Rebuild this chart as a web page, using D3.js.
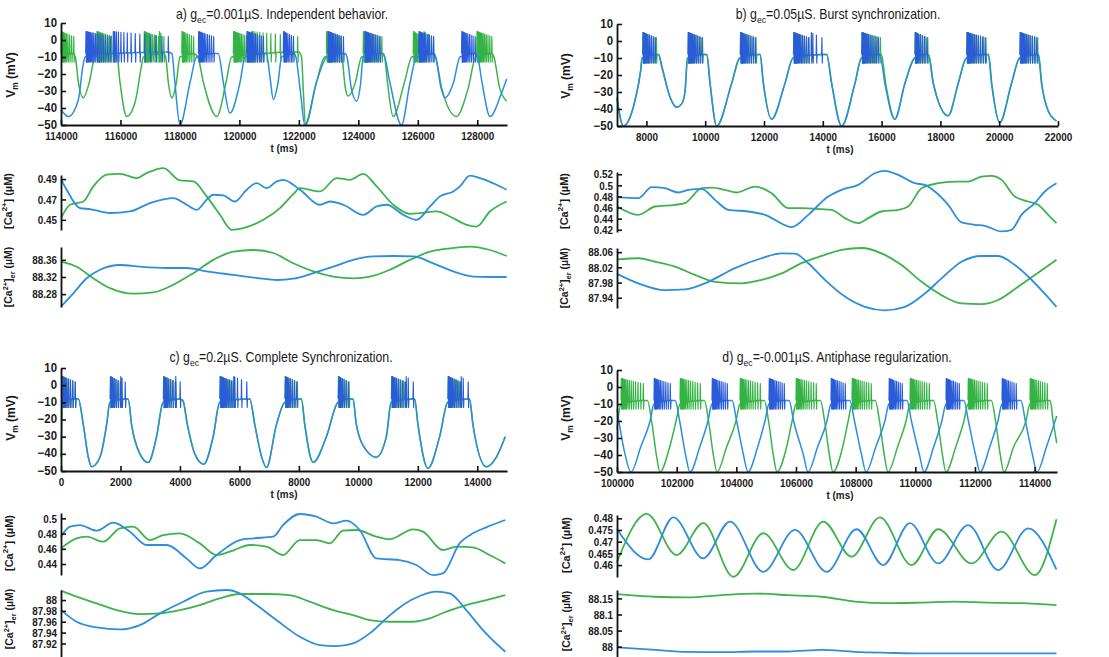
<!DOCTYPE html>
<html>
<head>
<meta charset="utf-8">
<script src="https://cdn.jsdelivr.net/npm/d3@7"></script>
<style>
  body { margin: 0; background: #fff; }
</style>
</head>
<body>
<div id="chart"></div>
<script>
const W = 1109, H = 657;
const FONT = "'Liberation Sans', Arial, Helvetica, sans-serif";
const GREEN = "#3cb44b", GREEN_SP = "#33b343";
const BLUE = "#2b8fdc", BLUE_SP = "#2a5bd8";

// ---- a) gec = 0.001 uS, t 114000..129000 ms ----
// Vm slow envelope [t, mV] and bursts [t start, t end, spikes]
const aBlueV = [[114000,-41],[114250,-45],[114585,-35],[114740,-15],[114810,-10],[115650,-8],[117600,-7],[117730,-8],[117830,-25],[118000,-50],[118340,-25],[118560,-10],[119150,-8],[119290,-8],[119460,-25],[119680,-43],[120020,-25],[120190,-10],[120800,-8],[120910,-8],[121030,-22],[121140,-35],[121300,-25],[121420,-10],[121840,-8],[121900,-10],[122050,-30],[122200,-50],[122590,-25],[122950,-10],[123550,-8],[123620,-10],[123760,-28],[123940,-36],[124080,-25],[124160,-10],[124720,-8],[124840,-8],[125060,-25],[125450,-50],[125740,-25],[125960,-10],[126530,-8],[126600,-10],[126780,-28],[126910,-34],[127200,-25],[127420,-10],[127920,-8],[128000,-9],[128160,-25],[128430,-45],[128800,-32],[128990,-23]];
const aBlueBursts = [[114830,115650,18],[115750,117600,16],[118620,119125,13],[120245,120800,14],[121475,121810,9],[122980,123490,13],[124220,124720,13],[126030,126520,13],[127470,127920,12]];
const aGreenV = [[114000,-9],[114400,-8],[114480,-10],[114585,-25],[114750,-34],[114950,-25],[115145,-10],[115760,-8],[115870,-8],[115985,-25],[116210,-45],[116500,-36],[116700,-16],[116770,-10],[117450,-8],[117520,-10],[117610,-25],[117720,-34],[117880,-25],[118000,-10],[118450,-8],[118600,-10],[118790,-25],[119240,-45],[119550,-25],[119740,-10],[122000,-7],[122090,-10],[122150,-30],[122220,-50],[122590,-25],[122870,-10],[123400,-8],[123450,-10],[123560,-28],[123660,-33],[123900,-25],[124110,-10],[124780,-8],[124880,-10],[124980,-25],[125170,-45],[125550,-25],[125800,-10],[126520,-8],[126600,-10],[126800,-28],[127300,-45],[127700,-28],[127950,-10],[128480,-8],[128560,-10],[128750,-28],[128990,-36]];
const aGreenBursts = [[114000,114420,11],[115200,115760,14],[116790,117270,13],[117300,117450,3],[118060,118450,10],[119795,120300,14],[120400,121950,14],[122925,123400,13],[124160,124780,15],[125845,126125,9],[126200,126520,4],[127980,128480,14]];
// [Ca2+] and [Ca2+]er, [t, uM]
const aBlueCa = [[114000,0.490],[114191,0.4795],[114639,0.4615],[114975,0.4605],[115648,0.4567],[116320,0.4582],[116993,0.4664],[117778,0.4713],[118226,0.4648],[118562,0.4598],[118899,0.4697],[119123,0.4746],[119459,0.4739],[119852,0.4680],[120244,0.4795],[120580,0.4861],[120917,0.4811],[121253,0.4877],[121477,0.4893],[122038,0.4795],[122710,0.4648],[123046,0.4680],[123495,0.4648],[124167,0.4549],[124616,0.4631],[124952,0.4648],[125513,0.4549],[125961,0.4500],[126410,0.4631],[126746,0.4730],[127194,0.4779],[127418,0.4828],[127755,0.4933],[128091,0.4910],[128652,0.4844],[128988,0.4795]];
const aGreenCa = [[114000,0.4516],[114303,0.4648],[114751,0.4680],[115087,0.4828],[115536,0.4943],[115984,0.4952],[116545,0.4910],[116881,0.4959],[117441,0.5008],[118002,0.4887],[118450,0.4877],[118899,0.4730],[119347,0.4549],[119740,0.4402],[120132,0.4418],[120804,0.4500],[121365,0.4615],[121813,0.4752],[122038,0.4811],[122710,0.4779],[123271,0.4910],[123719,0.4893],[124167,0.4952],[124616,0.4828],[125176,0.4648],[125737,0.4559],[126073,0.4566],[126634,0.4582],[127082,0.4533],[127642,0.4451],[127979,0.4434],[128427,0.4582],[128988,0.4680]];
const aBlueEr = [[114000,88.251],[114415,88.282],[114863,88.317],[115312,88.337],[115984,88.348],[116657,88.344],[117554,88.341],[118226,88.341],[118899,88.333],[119796,88.325],[120692,88.317],[121253,88.313],[121813,88.316],[122486,88.329],[123159,88.344],[123831,88.360],[124504,88.368],[125176,88.369],[125849,88.368],[126521,88.352],[127194,88.333],[127867,88.321],[128427,88.320],[128988,88.320]];
const aGreenEr = [[114000,88.356],[114527,88.344],[115087,88.317],[115648,88.294],[116433,88.281],[117105,88.284],[117778,88.302],[118450,88.329],[119123,88.360],[119796,88.379],[120468,88.383],[121141,88.376],[121813,88.352],[122486,88.333],[123159,88.321],[123831,88.317],[124392,88.321],[125064,88.337],[125737,88.360],[126410,88.379],[127082,88.387],[127755,88.391],[128427,88.383],[128988,88.369]];

// ---- b) gec = 0.05 uS, t 7000..22000 ms ----
const bBlueV = [[7000,-33],[7215,-50],[7612,-35],[7800,-18],[7861,-10],[8292,-8],[8405,-8],[8519,-15],[8802,-33],[9029,-39],[9200,-37],[9312,-30],[9403,-10],[9879,-8],[10049,-8],[10162,-25],[10389,-50],[10899,-25],[11182,-10],[11692,-8],[11862,-8],[11975,-25],[12259,-46],[12712,-25],[12995,-10],[13959,-8],[14129,-8],[14299,-25],[14639,-50],[15092,-25],[15319,-10],[15885,-8],[15942,-8],[16112,-25],[16450,-46],[16792,-25],[17132,-10],[17529,-8],[17585,-8],[17755,-25],[18265,-44],[18605,-25],[18888,-10],[19512,-8],[19625,-8],[19738,-25],[20021,-48],[20418,-25],[20701,-10],[21268,-8],[21325,-8],[21438,-25],[21665,-41],[21948,-47]];
const bBlueBursts = [[7880,8292,11],[9420,9879,12],[11200,11692,12],[13010,13505,13],[13600,13959,4],[15330,15885,13],[17140,17529,9],[18900,19512,14],[20710,21268,13]];
const bGreenV = [[7000,-34],[7215,-50],[7612,-35],[7800,-18],[7850,-10],[8330,-8],[8420,-8],[8530,-15],[8802,-33],[9029,-39],[9200,-37],[9312,-30],[9395,-10],[9900,-8],[10060,-8],[10170,-25],[10389,-50],[10899,-25],[11170,-10],[11720,-8],[11870,-8],[11985,-25],[12259,-46],[12712,-25],[12985,-10],[13959,-8],[14135,-8],[14305,-25],[14639,-50],[15092,-25],[15310,-10],[15950,-8],[15990,-8],[16140,-25],[16450,-46],[16792,-25],[17122,-10],[17560,-8],[17600,-8],[17765,-25],[18265,-44],[18605,-25],[18880,-10],[19540,-8],[19640,-8],[19750,-25],[20021,-48],[20418,-25],[20690,-10],[21300,-8],[21340,-8],[21450,-25],[21665,-41],[21948,-47]];
const bGreenBursts = [[7870,8330,10],[9410,9900,11],[11190,11720,11],[13000,13520,12],[15320,15950,13],[17130,17560,9],[18890,19540,13],[20700,21300,12]];
const bBlueCa = [[7000,0.4787],[7725,0.4769],[8179,0.4966],[8632,0.4948],[9085,0.4871],[9425,0.4919],[9879,0.4937],[10332,0.4739],[10785,0.4559],[11465,0.4529],[12032,0.4470],[12939,0.4248],[13505,0.4469],[14185,0.4799],[14638,0.4919],[15205,0.5008],[15772,0.5218],[16112,0.5260],[16565,0.5188],[17132,0.5038],[17472,0.5008],[17812,0.4889],[18265,0.4649],[18718,0.4332],[19172,0.4290],[19512,0.4272],[20078,0.4170],[20418,0.4200],[20758,0.4469],[21212,0.4679],[21552,0.4889],[21948,0.5038]];
const bGreenCa = [[7000,0.4619],[7725,0.4469],[8292,0.4619],[8972,0.4649],[9312,0.4679],[9879,0.4948],[10219,0.4960],[10672,0.4919],[11069,0.4871],[11692,0.4978],[12259,0.4859],[12825,0.4589],[13279,0.4589],[13959,0.4571],[14299,0.4559],[14752,0.4410],[15205,0.4320],[15545,0.4410],[15998,0.4529],[16565,0.4559],[16905,0.4619],[17359,0.4948],[17925,0.5038],[18492,0.5068],[18945,0.5068],[19399,0.5158],[19739,0.5170],[20079,0.5098],[20532,0.4799],[20985,0.4709],[21325,0.4649],[21665,0.4469],[21948,0.4320]];
const bBlueEr = [[7000,88.003],[7725,87.978],[8632,87.960],[9312,87.962],[10105,87.982],[11012,88.018],[11919,88.044],[12599,88.057],[13052,88.056],[13505,88.031],[14072,87.987],[14752,87.943],[15432,87.916],[16112,87.907],[16792,87.916],[17472,87.951],[18038,87.991],[18718,88.035],[19399,88.050],[19965,88.050],[20532,88.026],[20985,87.996],[21438,87.960],[21948,87.916]];
const bGreenEr = [[7000,88.041],[7725,88.044],[8292,88.035],[8972,88.022],[9652,88.000],[10332,87.982],[11239,87.978],[11919,87.987],[12599,88.004],[13279,88.031],[13959,88.050],[14638,88.066],[15318,88.071],[15998,88.057],[16678,88.026],[17359,87.982],[18038,87.947],[18718,87.925],[19399,87.923],[19965,87.934],[20645,87.969],[21212,88.000],[21948,88.040]];

// ---- c) gec = 0.2 uS, t 0..15000 ms ----
const cBlueV = [[0,-9],[470,-8],[582,-8],[750,-23],[918,-42],[1030,-47.5],[1310,-42],[1534,-23],[1646,-10],[2150,-8],[2262,-8],[2374,-23],[2654,-40],[2934,-45],[3214,-30],[3438,-10],[3998,-8],[4100,-9],[4250,-23],[4500,-40],[4800,-46],[5118,-30],[5342,-10],[6238,-8],[6350,-8],[6518,-23],[6750,-42],[6910,-48],[7246,-23],[7526,-10],[7918,-8],[8086,-8],[8198,-23],[8478,-45],[8926,-30],[9318,-10],[9654,-8],[9822,-8],[9934,-23],[10270,-38],[10606,-42],[10942,-30],[11110,-10],[11838,-8],[11894,-8],[12006,-23],[12342,-48.5],[12734,-30],[13014,-10],[13686,-8],[13742,-8],[13854,-23],[14302,-47.5],[14638,-42],[14940,-30]];
const cBlueBursts = [[30,470,10],[1660,1982,8],[2000,2150,3],[3450,3830,9],[3850,3998,2],[5350,5790,12],[5800,6238,5],[7540,7918,9],[9330,9654,8],[11120,11558,10],[11600,11838,3],[13020,13406,10],[13450,13686,3]];
const cGreenV = [[0,-42],[60,-10],[470,-8],[582,-8],[750,-23],[918,-42],[1030,-47.5],[1310,-42],[1534,-23],[1640,-10],[2150,-8],[2262,-8],[2374,-23],[2654,-40],[2934,-45],[3214,-30],[3430,-10],[3998,-8],[4100,-9],[4250,-23],[4500,-40],[4800,-46],[5118,-30],[5335,-10],[6238,-8],[6350,-8],[6518,-23],[6750,-42],[6910,-48],[7246,-23],[7520,-10],[7918,-8],[8086,-8],[8198,-23],[8478,-45],[8926,-30],[9312,-10],[9654,-8],[9822,-8],[9934,-23],[10270,-38],[10606,-42],[10942,-30],[11100,-10],[11838,-8],[11894,-8],[12006,-23],[12342,-48.5],[12734,-30],[13005,-10],[13686,-8],[13742,-8],[13854,-23],[14302,-47.5],[14638,-42],[14940,-30]];
const cGreenBursts = [[60,470,9],[1650,2000,8],[3440,3850,9],[5340,5820,12],[7530,7940,9],[9320,9680,8],[11110,11600,10],[13010,13450,10]];
const cBlueCa = [[0,0.4759],[302,0.4890],[638,0.4912],[1198,0.4838],[1758,0.4943],[2318,0.4825],[2878,0.4650],[3550,0.4650],[4222,0.4474],[4670,0.4343],[5230,0.4518],[6014,0.4715],[6462,0.4737],[7134,0.4759],[7470,0.4912],[8030,0.5057],[8590,0.5022],[9150,0.4934],[9598,0.4969],[10046,0.4847],[10606,0.4474],[11390,0.4452],[11950,0.4387],[12510,0.4255],[12846,0.4277],[13406,0.4671],[13854,0.4803],[14302,0.4882],[14941,0.4978]];
const cGreenCa = [[0,0.4606],[526,0.4737],[862,0.4759],[1422,0.4693],[1982,0.4869],[2430,0.4890],[2990,0.4715],[3438,0.4781],[3998,0.4803],[4670,0.4671],[5230,0.4518],[5678,0.4562],[6350,0.4650],[6910,0.4628],[7470,0.4518],[8030,0.4715],[8590,0.4715],[9038,0.4671],[9486,0.4838],[9934,0.4847],[10606,0.4759],[11054,0.4724],[11838,0.4855],[12174,0.4825],[12846,0.4584],[13294,0.4628],[13854,0.4619],[14414,0.4518],[14941,0.4409]];
const cBlueEr = [[0,87.9815],[526,87.960],[1198,87.9495],[1982,87.9458],[2654,87.9538],[3326,87.9754],[4110,87.9969],[4894,88.0154],[5566,88.0185],[6014,88.0123],[6574,87.9908],[7246,87.9631],[8030,87.9323],[8702,87.9169],[9262,87.9151],[9822,87.9200],[10382,87.9385],[10942,87.9662],[11502,87.9908],[12062,88.0074],[12622,88.0154],[13070,88.0123],[13630,87.9815],[14190,87.9446],[14941,87.9046]];
const cGreenEr = [[0,88.0172],[526,88.0062],[1198,87.9938],[1870,87.9815],[2654,87.9742],[3326,87.9754],[3998,87.9815],[4670,87.9908],[5342,88.0031],[6014,88.0111],[6910,88.0111],[7694,88.0092],[8366,87.9969],[9150,87.9815],[9822,87.9723],[10382,87.9631],[11054,87.9600],[11838,87.9600],[12398,87.9662],[12958,87.9785],[13630,87.9908],[14302,88.0000],[14941,88.0092]];

// ---- d) gec = -0.001 uS, t 100000..114750 ms ----
const dBlueV = [[100000,-13],[100250,-38],[100469,-50],[100800,-35],[101110,-20],[101240,-10],[101777,-8],[101950,-8],[102100,-20],[102300,-40],[102447,-50],[102780,-35],[103050,-20],[103184,-10],[103687,-8],[103860,-8],[104010,-20],[104240,-40],[104391,-50],[104720,-35],[104960,-20],[105095,-10],[105598,-8],[105770,-8],[105920,-20],[106250,-40],[106402,-50],[106730,-35],[107040,-20],[107173,-10],[107643,-8],[107810,-8],[107960,-20],[108200,-40],[108346,-50],[108680,-35],[108980,-20],[109117,-10],[109553,-8],[109720,-8],[109870,-20],[110140,-40],[110291,-50],[110620,-35],[110890,-20],[111028,-10],[111464,-8],[111630,-8],[111780,-20],[112020,-40],[112168,-50],[112500,-35],[112770,-20],[112905,-10],[113374,-8],[113540,-8],[113690,-20],[113930,-40],[114078,-50],[114400,-35],[114740,-17]];
const dBlueBursts = [[101240,101777,13],[103184,103687,13],[105095,105598,13],[107173,107643,12],[109117,109553,12],[111028,111464,12],[112905,113374,12]];
const dGreenV = [[100000,-25],[100134,-10],[100872,-8],[101020,-8],[101160,-20],[101320,-40],[101441,-50],[101770,-35],[101980,-20],[102112,-10],[102782,-8],[102930,-8],[103070,-20],[103230,-40],[103352,-50],[103680,-35],[103990,-20],[104123,-10],[104794,-8],[104940,-8],[105080,-20],[105240,-40],[105363,-50],[105690,-35],[105870,-20],[106000,-10],[106670,-8],[106820,-8],[106960,-20],[107120,-40],[107240,-50],[107570,-35],[107750,-20],[107877,-10],[108514,-8],[108660,-8],[108800,-20],[108960,-40],[109084,-50],[109410,-35],[109690,-20],[109822,-10],[110459,-8],[110610,-8],[110750,-20],[110910,-40],[111028,-50],[111360,-35],[111630,-20],[111766,-10],[112403,-8],[112550,-8],[112690,-20],[112850,-40],[112972,-50],[113300,-35],[113710,-20],[113844,-10],[114414,-8],[114520,-8],[114620,-20],[114740,-33]];
const dGreenBursts = [[100134,100872,15],[102112,102782,14],[104123,104794,14],[106000,106670,14],[107877,108514,14],[109822,110459,14],[111766,112403,14],[113844,114414,13]];
const dBlueCa = [[100000,0.4753],[101050,0.4624],[101888,0.4804],[102893,0.4629],[103787,0.4786],[104904,0.4571],[105965,0.4750],[107026,0.4571],[108031,0.4753],[108925,0.4600],[109818,0.4779],[110768,0.4607],[111773,0.4771],[112778,0.4579],[113784,0.4757],[114733,0.4581]];
const dGreenCa = [[100000,0.4614],[100994,0.4819],[101999,0.4643],[102893,0.4779],[103898,0.4550],[104904,0.4736],[105909,0.4579],[106914,0.4786],[107864,0.4636],[108813,0.4804],[109874,0.4600],[110768,0.4753],[111885,0.4607],[112890,0.4743],[114007,0.4557],[114733,0.4796]];
const dBlueEr = [[100000,87.998],[101273,87.990],[102390,87.984],[103507,87.983],[104624,87.985],[105741,87.985],[106858,87.990],[107975,87.984],[109092,87.981],[110209,87.979],[111326,87.979],[112443,87.979],[113560,87.979],[114733,87.979]];
const dGreenEr = [[100000,88.163],[101273,88.155],[102390,88.153],[103507,88.160],[104624,88.165],[105741,88.160],[106858,88.155],[107975,88.140],[109092,88.135],[110209,88.137],[111326,88.140],[112443,88.137],[113560,88.135],[114733,88.129]];

// tick labels
const vmTicks = [10, 0, -10, -20, -30, -40, -50];
const aXTicks = [114000, 116000, 118000, 120000, 122000, 124000, 126000, 128000];
const bXTicks = [8000, 10000, 12000, 14000, 16000, 18000, 20000, 22000];
const cXTicks = [0, 2000, 4000, 6000, 8000, 10000, 12000, 14000];
const dXTicks = [100000, 102000, 104000, 106000, 108000, 110000, 112000, 114000];

const panels = [
  { dom: [114000, 129000], x0: 61, x1: 507, vTop: 23, vBot: 125, xTicks: aXTicks,
    title: [["a) g"], ["ec", "sub"], ["=0.001µS. Independent behavior."]], tx: 282, ty: 19, tms: [284, 152],
    ca: { dom: [0.44, 0.494], rng: [230, 175], ticks: [0.45, 0.47, 0.49] },
    er: { dom: [88.25, 88.39], rng: [307, 247], ticks: [88.28, 88.32, 88.36] },
    lab: { vm: [15, 75], ca: [12, 201], er: [12, 277] },
    green: { v: aGreenV, b: aGreenBursts, ca: aGreenCa, er: aGreenEr },
    blue: { v: aBlueV, b: aBlueBursts, ca: aBlueCa, er: aBlueEr } },
  { dom: [7000, 22000], x0: 617, x1: 1058, vTop: 24, vBot: 126, xTicks: bXTicks,
    title: [["b) g"], ["ec", "sub"], ["=0.05µS. Burst synchronization."]], tx: 838, ty: 19, tms: [840, 153],
    ca: { dom: [0.416, 0.524], rng: [232, 172], ticks: [0.42, 0.44, 0.46, 0.48, 0.5, 0.52] },
    er: { dom: [87.913, 88.071], rng: [308, 248], ticks: [87.94, 87.98, 88.02, 88.06] },
    lab: { vm: [570, 76], ca: [568, 201], er: [568, 278] },
    green: { v: bGreenV, b: bGreenBursts, ca: bGreenCa, er: bGreenEr },
    blue: { v: bBlueV, b: bBlueBursts, ca: bBlueCa, er: bBlueEr } },
  { dom: [0, 15000], x0: 61, x1: 507, vTop: 368, vBot: 471, xTicks: cXTicks,
    title: [["c) g"], ["ec", "sub"], ["=0.2µS. Complete Synchronization."]], tx: 281, ty: 362, tms: [284, 498],
    ca: { dom: [0.4256, 0.507], rng: [575, 513], ticks: [0.44, 0.46, 0.48, 0.5] },
    er: { dom: [87.895, 88.0185], rng: [657, 590], ticks: [87.92, 87.94, 87.96, 87.98, 88] },
    lab: { vm: [15, 418], ca: [13, 543], er: [13, 619] },
    green: { v: cGreenV, b: cGreenBursts, ca: cGreenCa, er: cGreenEr },
    blue: { v: cBlueV, b: cBlueBursts, ca: cBlueCa, er: cBlueEr } },
  { dom: [100000, 114750], x0: 617, x1: 1057, vTop: 370, vBot: 472, xTicks: dXTicks,
    title: [["d) g"], ["ec", "sub"], ["=-0.001µS. Antiphase regularization."]], tx: 837, ty: 362, tms: [840, 499],
    ca: { dom: [0.4549, 0.4814], rng: [577, 515], ticks: [0.46, 0.465, 0.47, 0.475, 0.48] },
    er: { dom: [87.968, 88.176], rng: [657, 590], ticks: [88, 88.05, 88.1, 88.15] },
    lab: { vm: [570, 418], ca: [570, 545], er: [570, 621] },
    green: { v: dGreenV, b: dGreenBursts, ca: dGreenCa, er: dGreenEr },
    blue: { v: dBlueV, b: dBlueBursts, ca: dBlueCa, er: dBlueEr } }
];

const svg = d3.select("#chart").append("svg")
  .attr("width", W).attr("height", H)
  .style("font-family", FONT);

// text with sub/superscript parts, shifted with absolute dy
function richText(t, parts, size) {
  let shift = 0;
  parts.forEach(([s, k]) => {
    const target = k === "sub" ? size * 0.28 : k === "sup" ? -size * 0.42 : 0;
    t.append("tspan")
      .attr("dy", target - shift)
      .attr("font-size", k ? size * 0.7 : size)
      .text(s);
    shift = target;
  });
}

// condense tick labels a little, like the scanned figure
function squish(sel, k) {
  sel.selectAll(".tick text").each(function() {
    const t = d3.select(this);
    const tx = +t.attr("x") || 0, ty = +t.attr("y") || 0;
    t.attr("x", 0).attr("y", 0).attr("transform", `translate(${tx},${ty}) scale(${k},1)`);
  });
}

function styleAxis(sel, size = 11.5, k = 0.86) {
  sel.attr("font-family", FONT).attr("font-size", size).attr("font-weight", "bold");
  sel.select(".domain").attr("stroke", "#111").attr("stroke-width", 1.8);
  sel.selectAll(".tick line").attr("stroke", "#111").attr("stroke-width", 1.6);
  sel.selectAll(".tick text").attr("fill", "#1a1a1a");
  squish(sel, k);
}

function vLabel(g, [x, y], parts, size) {
  const t = g.append("text")
    .attr("transform", `translate(${x},${y}) rotate(-90)`)
    .attr("text-anchor", "middle")
    .attr("font-weight", "bold")
    .attr("fill", "#1a1a1a")
    .attr("dy", "0.35em");
  richText(t, parts, size);
}

// spikes of a burst, packed at its start and thinning out
function spikes(x, y, bursts) {
  let p = "";
  bursts.forEach(([t0, t1, n]) => {
    for (let i = 0; i < n; i++) {
      const f = n > 1 ? Math.pow(i / (n - 1), 1.8) : 0;
      const px = x(t0 + (t1 - t0) * f);
      const top = 5 - 3 * f;
      p += `M${px},${y(-8)}L${px + 0.3},${y(top)}L${px + 0.7},${y(-13)}L${px + 1},${y(-8)}`;
    }
  });
  return p;
}

function drawPanel(p) {
  const g = svg.append("g");
  const x = d3.scaleLinear().domain(p.dom).range([p.x0, p.x1]);
  const yV = d3.scaleLinear().domain([-50, 10]).range([p.vBot, p.vTop]);
  const yCa = d3.scaleLinear().domain(p.ca.dom).range(p.ca.rng);
  const yEr = d3.scaleLinear().domain(p.er.dom).range(p.er.rng);

  // title
  const title = g.append("text")
    .attr("transform", `translate(${p.tx},${p.ty}) scale(0.88,1)`)
    .attr("text-anchor", "middle")
    .attr("fill", "#1a1a1a");
  richText(title, p.title, 14);

  // traces: green under blue
  [["green", GREEN, GREEN_SP], ["blue", BLUE, BLUE_SP]].forEach(([k, col, spCol]) => {
    const s = p[k];
    g.append("path")
      .attr("d", d3.line().x(d => x(d[0])).y(d => yV(d[1])).curve(d3.curveMonotoneX)(s.v))
      .attr("fill", "none").attr("stroke", col).attr("stroke-width", 1.5);
    g.append("path")
      .attr("d", spikes(x, yV, s.b))
      .attr("fill", "none").attr("stroke", spCol).attr("stroke-width", 1.15)
      .attr("stroke-linejoin", "round");
  });
  [["green", GREEN], ["blue", BLUE]].forEach(([k, col]) => {
    const s = p[k];
    g.append("path")
      .attr("d", d3.line().x(d => x(d[0])).y(d => yCa(d[1])).curve(d3.curveMonotoneX)(s.ca))
      .attr("fill", "none").attr("stroke", col).attr("stroke-width", 1.8);
    g.append("path")
      .attr("d", d3.line().x(d => x(d[0])).y(d => yEr(d[1])).curve(d3.curveMonotoneX)(s.er))
      .attr("fill", "none").attr("stroke", col).attr("stroke-width", 1.8);
  });

  // axes
  g.append("g").attr("transform", `translate(0,${p.vBot})`)
    .call(d3.axisBottom(x).tickValues(p.xTicks).tickSize(-5).tickSizeOuter(0).tickPadding(7).tickFormat(d3.format("d")))
    .call(styleAxis);
  g.append("g").attr("transform", `translate(${p.x0},0)`)
    .call(d3.axisLeft(yV).tickValues(vmTicks).tickSize(-5).tickSizeOuter(0).tickPadding(4))
    .call(styleAxis, 12, 0.95)
    .selectAll(".tick text").attr("dy", "0.25em");
  g.append("g").attr("transform", `translate(${p.x0},0)`)
    .call(d3.axisLeft(yCa).tickValues(p.ca.ticks).tickSize(-5).tickSizeOuter(0).tickPadding(4).tickFormat(d => String(d)))
    .call(styleAxis);
  g.append("g").attr("transform", `translate(${p.x0},0)`)
    .call(d3.axisLeft(yEr).tickValues(p.er.ticks).tickSize(-5).tickSizeOuter(0).tickPadding(4).tickFormat(d => String(d)))
    .call(styleAxis);

  // axis titles
  g.append("text")
    .attr("transform", `translate(${p.tms[0]},${p.tms[1]}) scale(0.86,1)`)
    .attr("text-anchor", "middle")
    .attr("font-size", 11.5).attr("font-weight", "bold").attr("fill", "#1a1a1a")
    .text("t (ms)");
  vLabel(g, p.lab.vm, [["V"], ["m", "sub"], [" (mV)"]], 12);
  vLabel(g, p.lab.ca, [["[Ca"], ["2+", "sup"], ["] (µM)"]], 11);
  vLabel(g, p.lab.er, [["[Ca"], ["2+", "sup"], ["]"], ["er", "sub"], [" (µM)"]], 10.5);
}

panels.forEach(drawPanel);
</script>
</body>
</html>
